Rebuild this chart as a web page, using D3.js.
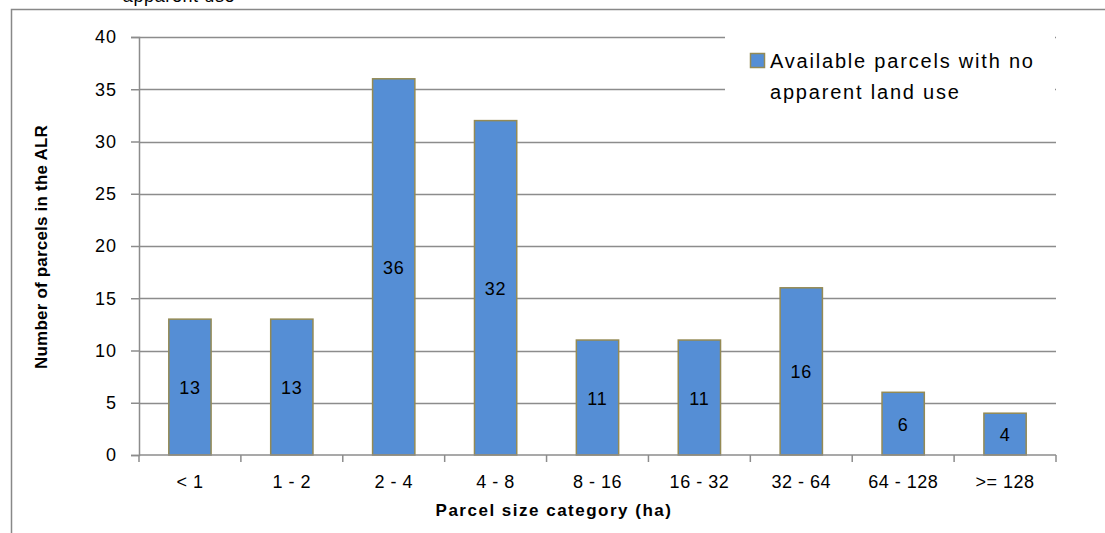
<!DOCTYPE html>
<html><head><meta charset="utf-8">
<script src="https://cdn.jsdelivr.net/npm/d3@7"></script>
<style>body{margin:0;background:#fff}svg{display:block}text{font-family:"Liberation Sans",Arial,sans-serif}</style>
</head><body><svg id="c" width="1105" height="533"></svg>
<script>
const categories = ["< 1","1 - 2","2 - 4","4 - 8","8 - 16","16 - 32","32 - 64","64 - 128",">= 128"];
const values = [13,13,36,32,11,11,16,6,4];
const yTicks = [0,5,10,15,20,25,30,35,40];
const seriesName = ["Available parcels with no","apparent land use"];

const FONT = "Liberation Sans, Arial, sans-serif";
const svg = d3.select("#c");
const m = {l:139, r:1056, t:37, b:455};
const x = d3.scaleBand().domain(categories).range([m.l, m.r]).paddingInner(0.585).paddingOuter(0.2925);
const xb = d3.scaleBand().domain(categories).range([m.l, m.r]);
const y = d3.scaleLinear().domain([0,40]).range([m.b, m.t]);

// outer frame
svg.append("path").attr("d","M11.5,533 V9.5 H1105").attr("fill","none").attr("stroke","#888").attr("stroke-width",1.5);
// cropped title remnant (cut off at the top edge, as in the reference)
svg.append("text").attr("x",179).attr("y",2).attr("text-anchor","middle").attr("font-size",18)
  .attr("letter-spacing",0.6).text("apparent use");

// gridlines
svg.append("g").selectAll("line").data(yTicks.filter(d=>d>0)).join("line")
  .attr("x1",m.l).attr("x2",m.r).attr("y1",d=>Math.round(y(d))+0.5).attr("y2",d=>Math.round(y(d))+0.5)
  .attr("stroke","#8c8c8c").attr("stroke-width",1.5);

// bars
svg.append("g").selectAll("rect").data(values).join("rect")
  .attr("x",(d,i)=>x(categories[i])).attr("width",x.bandwidth())
  .attr("y",d=>y(d)).attr("height",d=>y(0)-y(d))
  .attr("fill","#558ed5").attr("stroke","#948a54").attr("stroke-width",1.5);

// labels
svg.append("g").selectAll("text").data(values).join("text")
  .attr("x",(d,i)=>x(categories[i])+x.bandwidth()/2)
  .attr("y",d=>(y(d)+y(0))/2+7).attr("text-anchor","middle").attr("font-size",18).attr("letter-spacing",0.8)
  .attr("fill","#000").text(d=>d);

// y axis
const ya = svg.append("g").attr("transform",`translate(${m.l},0)`)
  .call(d3.axisLeft(y).tickValues(yTicks).tickSize(8).tickPadding(14));
ya.select(".domain").attr("stroke","#8c8c8c").attr("stroke-width",1.5);
ya.selectAll(".tick line").attr("stroke","#8c8c8c").attr("stroke-width",1.5);
ya.selectAll(".tick text").attr("font-size",18).attr("letter-spacing",1).attr("fill","#000").attr("font-family",FONT);

// x axis
const xa = svg.append("g").attr("transform",`translate(0,${m.b})`)
  .call(d3.axisBottom(xb).tickSize(0).tickPadding(20));
xa.select(".domain").attr("stroke","#8c8c8c").attr("stroke-width",1.5).attr("d",`M${m.l},0H${m.r}`);
xa.selectAll(".tick text").attr("font-size",18).attr("letter-spacing",0.5).attr("fill","#000").attr("font-family",FONT);
xa.selectAll("line.bt").data(d3.range(categories.length+1)).join("line").attr("class","bt")
  .attr("x1",i=>m.l+i*xb.step()).attr("x2",i=>m.l+i*xb.step()).attr("y1",0).attr("y2",7)
  .attr("stroke","#8c8c8c").attr("stroke-width",1.5);

// axis titles
svg.append("text").attr("transform","translate(47,247) rotate(-90)").attr("text-anchor","middle")
  .attr("font-size",17).attr("font-weight","bold").attr("letter-spacing",0.2).text("Number of parcels in the ALR");
svg.append("text").attr("x",554).attr("y",516).attr("text-anchor","middle")
  .attr("font-size",17).attr("font-weight","bold").attr("letter-spacing",1.5).text("Parcel size category (ha)");

// legend
const lg = svg.append("g");
lg.append("rect").attr("x",725).attr("y",30).attr("width",330).attr("height",80).attr("fill","#fff");
lg.append("rect").attr("x",750.5).attr("y",53.5).attr("width",14).attr("height",14)
  .attr("fill","#558ed5").attr("stroke","#948a54").attr("stroke-width",1.5);
lg.selectAll("text").data(seriesName).join("text").attr("x",770).attr("y",(d,i)=>68+i*31)
  .attr("font-size",20).attr("letter-spacing",1.8).attr("fill","#000").text(d=>d);
</script></body></html>
